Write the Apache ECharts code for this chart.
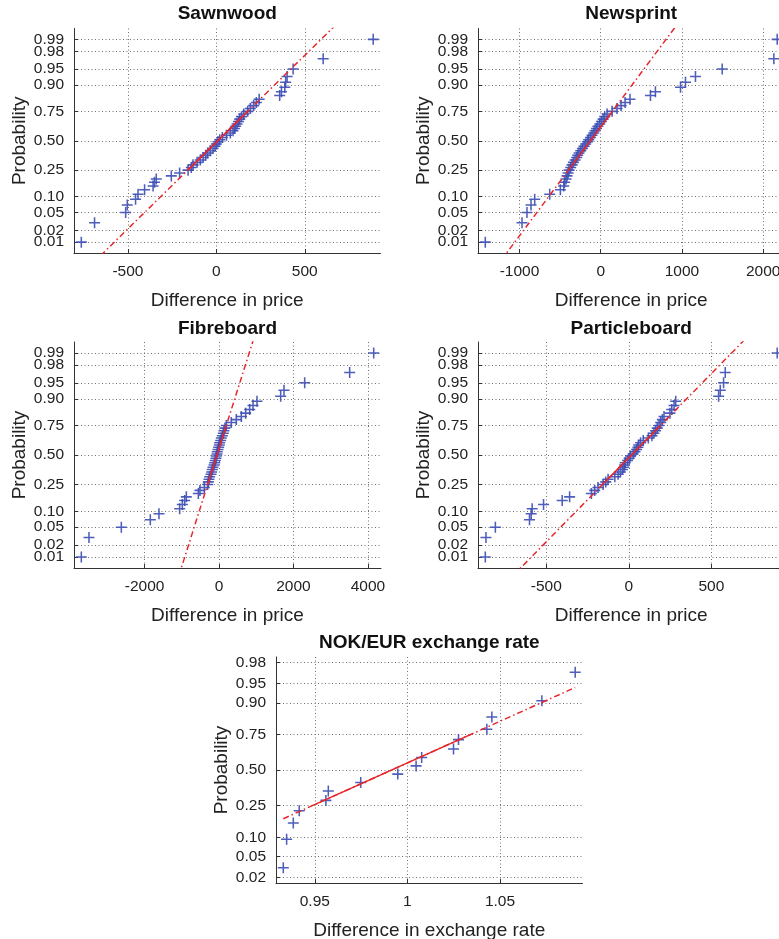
<!DOCTYPE html>
<html>
<head>
<meta charset="utf-8">
<script src="https://cdn.jsdelivr.net/npm/echarts@6/dist/echarts.min.js"></script>
<style>
html,body{margin:0;padding:0;background:#fff;}
#chart{width:779px;height:939px;}
</style>
</head>
<body>
<div id="chart"></div>
<script>
// ---------- data ----------
const panelTitles = ['Sawnwood', 'Newsprint', 'Fibreboard', 'Particleboard', 'NOK/EUR exchange rate'];
const xAxisNames = ['Difference in price', 'Difference in price', 'Difference in price', 'Difference in price', 'Difference in exchange rate'];

// sorted observations of each panel
const sawnwood = [-764,-689,-513,-504,-457,-443,-406,-358,-350,-340,-255,-208,-160,-142,-132,-109,-91,-75,-60,-49,-34,-19,-8,0,9,19,34,57,79,94,102,109,117,125,132,142,155,177,192,211,226,242,358,368,387,392,400,434,604,887];
const newsprint = [-1421,-969,-908,-858,-813,-628,-497,-456,-444,-427,-415,-402,-390,-370,-353,-337,-316,-296,-283,-267,-246,-226,-205,-185,-164,-148,-127,-107,-86,-70,-53,-35,-12,8,29,49,78,140,200,250,300,360,612,673,982,1043,1166,1495,2131,2172];
const fibreboard = [-3699,-3493,-2624,-1845,-1612,-1057,-985,-922,-878,-555,-511,-394,-305,-287,-269,-251,-215,-197,-179,-161,-134,-116,-99,-81,-72,-54,-45,-27,-9,9,18,45,63,90,116,134,161,197,331,466,600,717,824,914,1021,1657,1746,2302,3511,4156];
const particleboard = [-870,-866,-809,-602,-592,-586,-517,-404,-359,-227,-207,-187,-156,-140,-126,-85,-65,-51,-39,-30,-26,-22,-8,2,10,26,37,47,55,59,71,87,118,140,152,162,172,183,193,203,213,249,260,274,284,544,554,574,584,899];
const nokEur = [0.9330,0.9348,0.9384,0.9416,0.9560,0.9573,0.9748,0.9948,1.0047,1.0077,1.0249,1.0276,1.0429,1.0456,1.0726,1.0906];

// reference line: x at the 25th and 75th percentile
const sawnwoodFit = [-162, 177];
const newsprintFit = [-397, 143];
const fibreboardFit = [-305, 197];
const particleboardFit = [-160, 192];
const nokEurFit = [0.949, 1.034];

// tick labels
const sawnwoodTicks = [-500, 0, 500];
const newsprintTicks = [-1000, 0, 1000, 2000];
const fibreboardTicks = [-2000, 0, 2000, 4000];
const particleboardTicks = [-500, 0, 500];
const nokEurTicks = [0.95, 1, 1.05];
const probabilityTicks = ['0.01','0.02','0.05','0.10','0.25','0.50','0.75','0.90','0.95','0.98','0.99'];
const probabilityTicksTight = ['0.02','0.98'];   // labels that sit close to their neighbours

// ---------- layout ----------
const grids = [
  {left: 74,  top: 28.5, width: 306.5, height: 224.5},
  {left: 478, top: 28.5, width: 306.5, height: 224.5},
  {left: 74,  top: 342,  width: 307,   height: 226},
  {left: 478, top: 342,  width: 306.5, height: 226},
  {left: 276, top: 657,  width: 306.5, height: 226}
];
const titleTops = [4.5, 4.5, 319.5, 319.5, 633];

// ---------- helpers ----------
function norminv(p){
  const a=[-3.969683028665376e+01,2.209460984245205e+02,-2.759285104469687e+02,1.383577518672690e+02,-3.066479806614716e+01,2.506628277459239e+00];
  const b=[-5.447609879822406e+01,1.615858368580409e+02,-1.556989798598866e+02,6.680131188771972e+01,-1.328068155288572e+01];
  const c=[-7.784894002430293e-03,-3.223964580411365e-01,-2.400758277161838e+00,-2.549732539343734e+00,4.374664141464968e+00,2.938163982698783e+00];
  const d=[7.784695709041462e-03,3.224671290700398e-01,2.445134137142996e+00,3.754408661907416e+00];
  const pl=0.02425, ph=1-pl; let q, r;
  if(p<pl){q=Math.sqrt(-2*Math.log(p));return (((((c[0]*q+c[1])*q+c[2])*q+c[3])*q+c[4])*q+c[5])/((((d[0]*q+d[1])*q+d[2])*q+d[3])*q+1);}
  if(p>ph){q=Math.sqrt(-2*Math.log(1-p));return -(((((c[0]*q+c[1])*q+c[2])*q+c[3])*q+c[4])*q+c[5])/((((d[0]*q+d[1])*q+d[2])*q+d[3])*q+1);}
  q=p-0.5;r=q*q;
  return (((((a[0]*r+a[1])*r+a[2])*r+a[3])*r+a[4])*r+a[5])*q/(((((b[0]*r+b[1])*r+b[2])*r+b[3])*r+b[4])*r+1);
}

const FONT = "'Liberation Sans', Arial, Helvetica, sans-serif";
const panels = [
  {data: sawnwood, fit: sawnwoodFit, ticks: sawnwoodTicks},
  {data: newsprint, fit: newsprintFit, ticks: newsprintTicks},
  {data: fibreboard, fit: fibreboardFit, ticks: fibreboardTicks},
  {data: particleboard, fit: particleboardFit, ticks: particleboardTicks},
  {data: nokEur, fit: nokEurFit, ticks: nokEurTicks}
];
const probZ = probabilityTicks.map(s => norminv(parseFloat(s)));
const probLabel = v => { let k = 0, best = 1e9; probZ.forEach((z, j) => { const e = Math.abs(z - v); if (e < best) { best = e; k = j; } }); return probabilityTicks[k]; };
const plusSymbol = 'path://M4.3,0H5.7V10H4.3Z M0,4.3H10V5.7H0Z';
const gridLine = {show: true, lineStyle: {color: '#707070', width: 1, type: [1, 2.5]}};
const tickLabelStyle = {fontFamily: FONT, fontSize: 15.5, color: '#222'};

const option = {
  animation: false,
  backgroundColor: '#ffffff',
  title: [], grid: [], xAxis: [], yAxis: [], series: []
};

panels.forEach((pn, i) => {
  const d = pn.data, n = d.length;
  const dmin = d[0], dmax = d[n - 1], range = dmax - dmin;
  const xmin = dmin - 0.025 * range, xmax = dmax + 0.025 * range;
  const zLim = -norminv(0.25 / n);
  const zq = norminv(0.75);
  const mid = (pn.fit[0] + pn.fit[1]) / 2, slope = (pn.fit[1] - pn.fit[0]) / (2 * zq);
  const zAt = x => (x - mid) / slope;
  const inRange = z => z > -zLim && z < zLim;
  const yAll = probZ.filter(inRange);
  const yTight = probabilityTicksTight.map(s => norminv(parseFloat(s))).filter(inRange);
  const yMain = yAll.filter(z => !yTight.some(t => Math.abs(t - z) < 1e-9));

  option.grid.push(Object.assign({containLabel: false, outerBoundsMode: 'none'}, grids[i]));
  option.title.push({
    text: panelTitles[i], left: grids[i].left + grids[i].width / 2, top: titleTops[i],
    textAlign: 'center', padding: 0,
    textStyle: {fontFamily: FONT, fontWeight: 'bold', fontSize: 19, color: '#111'}
  });
  option.xAxis.push({
    type: 'value', gridIndex: i, min: xmin, max: xmax,
    name: xAxisNames[i], nameLocation: 'middle', nameGap: 38,
    nameTextStyle: {fontFamily: FONT, fontSize: 19, color: '#222'},
    axisLine: {onZero: false, lineStyle: {color: '#333', width: 1}},
    axisTick: {inside: true, length: 4, customValues: pn.ticks, lineStyle: {color: '#333'}},
    axisLabel: Object.assign({customValues: pn.ticks, formatter: v => String(v), margin: 11,
                showMinLabel: true, showMaxLabel: true, hideOverlap: false}, tickLabelStyle),
    splitLine: gridLine
  });
  // main probability axis: line, ticks, grid and most labels
  const yMainIndex = option.yAxis.length;
  option.yAxis.push({
    type: 'value', gridIndex: i, min: -zLim, max: zLim, position: 'left', offset: 0,
    name: 'Probability', nameLocation: 'middle', nameGap: 45, nameRotate: 90,
    nameTextStyle: {fontFamily: FONT, fontSize: 19, color: '#222'},
    axisLine: {onZero: false, lineStyle: {color: '#333', width: 1}},
    axisTick: {inside: true, length: 4, customValues: yAll, lineStyle: {color: '#333'}},
    axisLabel: Object.assign({customValues: yMain, margin: 10, formatter: probLabel,
      showMinLabel: true, showMaxLabel: true, hideOverlap: false}, tickLabelStyle),
    splitLine: gridLine
  });
  // companion axis carrying the labels that sit close to a neighbour
  option.yAxis.push({
    type: 'value', gridIndex: i, min: -zLim, max: zLim, position: 'left', offset: 0,
    axisLine: {show: false, onZero: false},
    axisTick: {show: false, customValues: yTight.length ? yTight : yAll},
    splitLine: {show: false},
    axisLabel: Object.assign({show: yTight.length > 0, customValues: yTight, margin: 10, formatter: probLabel,
      showMinLabel: true, showMaxLabel: true, hideOverlap: false}, tickLabelStyle)
  });
  option.series.push({
    type: 'scatter', xAxisIndex: i, yAxisIndex: yMainIndex,
    symbol: plusSymbol, symbolSize: 11,
    itemStyle: {color: '#3b4db3', opacity: 0.9},
    data: d.map((x, k) => [x, norminv((k + 0.5) / n)]),   // normal-probability plotting positions
    z: 2, silent: true
  });
  option.series.push({
    type: 'line', xAxisIndex: i, yAxisIndex: yMainIndex, clip: true, symbol: 'none', silent: true,
    lineStyle: {color: '#e8262a', width: 1.5, type: [6, 3, 1.5, 3]},
    data: [[dmin, zAt(dmin)], [dmax, zAt(dmax)]], z: 3
  });
  option.series.push({
    type: 'line', xAxisIndex: i, yAxisIndex: yMainIndex, clip: true, symbol: 'none', silent: true,
    lineStyle: {color: '#e8262a', width: 1.5, type: 'solid'},
    data: [[pn.fit[0], -zq], [pn.fit[1], zq]], z: 4
  });
});

const chart = echarts.init(document.getElementById('chart'), null, {renderer: 'canvas'});
chart.setOption(option);
</script>
</body>
</html>
